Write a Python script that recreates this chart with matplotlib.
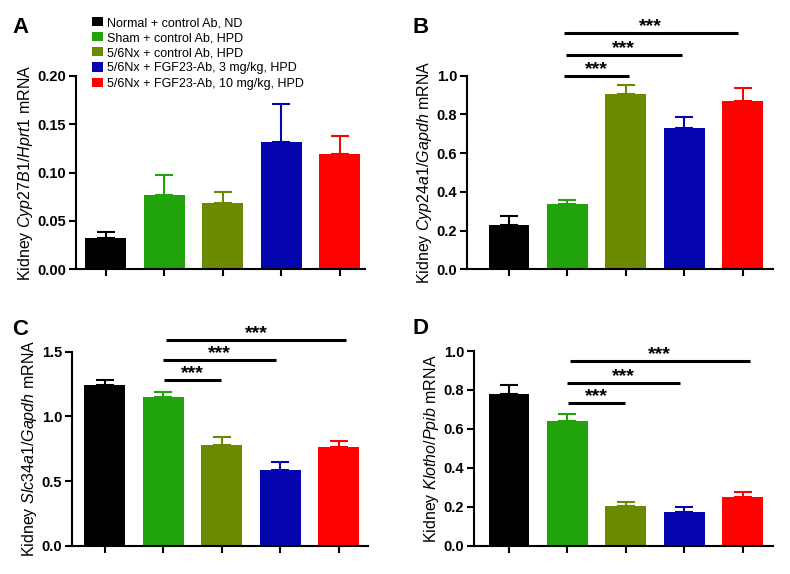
import matplotlib
matplotlib.use("Agg")
import matplotlib.pyplot as plt
from matplotlib.patches import Patch
from matplotlib.transforms import offset_copy

plt.rcParams['font.family'] = ['Liberation Sans', 'DejaVu Sans']
plt.rcParams['mathtext.fontset'] = 'custom'
plt.rcParams['mathtext.rm'] = 'Liberation Sans'
plt.rcParams['mathtext.it'] = 'Liberation Sans:italic'

# groups and colours
groups = ["Normal + control Ab, ND",
          "Sham + control Ab, HPD",
          "5/6Nx + control Ab, HPD",
          "5/6Nx + FGF23-Ab, 3 mg/kg, HPD",
          "5/6Nx + FGF23-Ab, 10 mg/kg, HPD"]
colors = ["#000000", "#20a30b", "#6c8a00", "#0505b0", "#fe0202"]

# mean values (bar heights) and top of error bars
a_mean = [0.032, 0.077, 0.069, 0.132, 0.119]
a_err = [0.039, 0.097, 0.080, 0.171, 0.138]
b_mean = [0.227, 0.337, 0.903, 0.730, 0.870]
b_err = [0.277, 0.358, 0.950, 0.788, 0.934]
c_mean = [1.243, 1.153, 0.780, 0.584, 0.762]
c_err = [1.281, 1.191, 0.844, 0.646, 0.810]
d_mean = [0.779, 0.643, 0.207, 0.173, 0.250]
d_err = [0.826, 0.677, 0.226, 0.200, 0.279]

# significance lines: (x start, x end, y)
b_sig = [(0.94, 2.05, 0.997), (0.97, 2.96, 1.107), (0.94, 3.92, 1.219)]
c_sig = [(1.01, 1.98, 1.284), (1.00, 2.92, 1.436), (1.04, 4.13, 1.590)]
d_sig = [(1.01, 1.98, 0.733), (0.99, 2.92, 0.836), (1.04, 4.12, 0.949)]

fig = plt.figure(figsize=(7.9, 5.74), dpi=100)


def panel(rect, mean, err, ylim, yticks, ytl, xlim, ylabel, sig=None):
    ax = fig.add_axes(rect)
    x = list(range(len(mean)))
    ax.bar(x, mean, width=0.70, color=colors, zorder=2)
    for i in x:
        ax.errorbar(i, mean[i], yerr=[[0], [err[i] - mean[i]]], color=colors[i],
                    capsize=6.5, elinewidth=1.5, capthick=1.5, zorder=1)
    ax.set_xlim(xlim)
    ax.set_ylim(ylim)
    ax.set_xticks(x)
    ax.set_xticklabels([])
    ax.set_yticks(yticks)
    ax.set_yticklabels(ytl, fontweight='bold', fontsize=10.5)
    for s in ['top', 'right']:
        ax.spines[s].set_visible(False)
    for s in ['left', 'bottom']:
        ax.spines[s].set_linewidth(1.5)
    ax.tick_params(width=1.5, length=5, pad=2)
    ax.set_ylabel(ylabel, fontsize=11.5, labelpad=2)
    if sig:
        star_tr = offset_copy(ax.transData, fig=fig, x=0, y=2, units='dots')
        for x0, x1, y in sig:
            ax.plot([x0, x1], [y, y], color='black', lw=2.2, clip_on=False,
                    solid_capstyle='butt')
            ax.text((x0 + x1) / 2, y, '***', transform=star_tr,
                    ha='center', va='baseline', fontsize=14, fontweight='bold',
                    clip_on=False)
    return ax


axA = panel([0.0962, 0.5308, 0.3658, 0.3373], a_mean, a_err, (0, 0.20),
            [0, 0.05, 0.10, 0.15, 0.20], ['0.00', '0.05', '0.10', '0.15', '0.20'],
            (-0.51, 4.43), r'Kidney $\mathit{Cyp27B1/Hprt1}$ mRNA')
axB = panel([0.5911, 0.5308, 0.3873, 0.3373], b_mean, b_err, (0, 1.0),
            [0, 0.2, 0.4, 0.6, 0.8, 1.0], ['0.0', '0.2', '0.4', '0.6', '0.8', '1.0'],
            (-0.72, 4.52), r'Kidney $\mathit{Cyp24a1/Gapdh}$ mRNA', b_sig)
axC = panel([0.0911, 0.0488, 0.3747, 0.3385], c_mean, c_err, (0, 1.5),
            [0, 0.5, 1.0, 1.5], ['0.0', '0.5', '1.0', '1.5'],
            (-0.56, 4.5), r'Kidney $\mathit{Slc34a1/Gapdh}$ mRNA', c_sig)
axD = panel([0.6, 0.0488, 0.3785, 0.3397], d_mean, d_err, (0, 1.0),
            [0, 0.2, 0.4, 0.6, 0.8, 1.0], ['0.0', '0.2', '0.4', '0.6', '0.8', '1.0'],
            (-0.60, 4.52), r'Kidney $\mathit{Klotho/Ppib}$ mRNA', d_sig)

# legend
handles = [Patch(facecolor=c, edgecolor='none') for c in colors]
fig.legend(handles, groups, loc='upper left', bbox_to_anchor=(92 / 790, 1 - 17 / 574),
           frameon=False, fontsize=9, handlelength=0.9, handleheight=0.75,
           handletextpad=0.3, labelspacing=0.25, borderpad=0, borderaxespad=0)

# panel letters
for lab, x, y in [('A', 12, 17), ('B', 412, 17), ('C', 12, 319), ('D', 412, 318)]:
    fig.text(x / 790, 1 - y / 574, lab, fontsize=16, fontweight='bold',
             ha='left', va='top')

fig.savefig('out.png', dpi=100)
